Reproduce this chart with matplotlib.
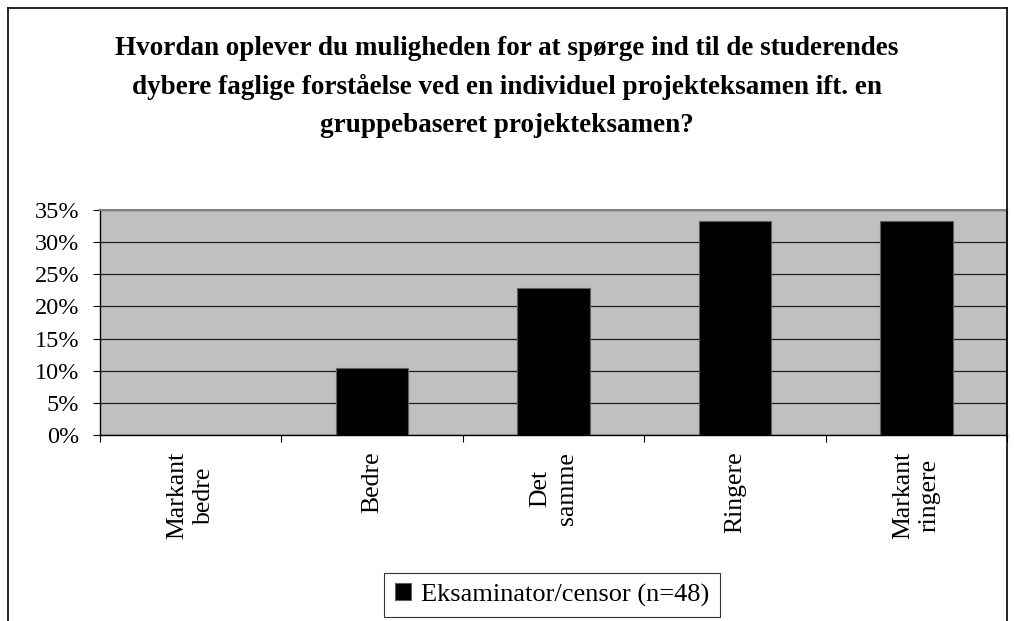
import matplotlib
matplotlib.use('Agg')
from matplotlib import pyplot as plt
from matplotlib.lines import Line2D

# survey answers, share of respondents
categories = ['Markant\nbedre', 'Bedre', 'Det\nsamme', 'Ringere', 'Markant\nringere']
values = [0.0, 10.4, 22.9, 33.3, 33.3]
series_name = 'Eksaminator/censor (n=48)'
yticks = [0, 5, 10, 15, 20, 25, 30, 35]
title = ('Hvordan oplever du muligheden for at spørge ind til de studerendes\n'
         'dybere faglige forståelse ved en individuel projekteksamen ift. en\n'
         'gruppebaseret projekteksamen?')

plt.rcParams['font.family'] = ['Liberation Serif', 'DejaVu Serif']

fig = plt.figure(figsize=(10.14, 6.21), dpi=100)
ax = fig.add_axes([100 / 1014, 1 - 435 / 621, 907 / 1014, 225 / 621])

x = range(len(categories))
ax.bar(x, values, width=0.4, color='black', edgecolor='#606060', linewidth=0.8,
       label=series_name, zorder=3)

ax.set_facecolor('#c0c0c0')
ax.set_xlim(-0.5, len(categories) - 0.5)
ax.set_ylim(0, 35)
ax.set_yticks(yticks)
ax.set_yticklabels(['%d%%' % t for t in yticks], fontsize=17.5)
ax.yaxis.grid(True, color='#202020', linewidth=0.9, zorder=1)
ax.tick_params(axis='y', direction='out', length=5, width=0.8, pad=10)

ax.set_xticks(list(x))
ax.set_xticklabels(categories, rotation=90, fontsize=18.5, va='top',
                   ha='center', multialignment='center', linespacing=1.25)
ax.set_xticks([i - 0.5 for i in range(len(categories) + 1)], minor=True)
ax.tick_params(axis='x', which='major', length=0, pad=12)
ax.tick_params(axis='x', which='minor', direction='out', length=5, width=0.8)

for side in ['top', 'right']:
    ax.spines[side].set_color('#808080')
    ax.spines[side].set_linewidth(1.5)
for side in ['left', 'bottom']:
    ax.spines[side].set_color('black')
    ax.spines[side].set_linewidth(1.0)

fig.text(0.5, 1 - 87 / 621, title, ha='center', va='center', fontsize=19.5,
         fontweight='bold', linespacing=1.68)

leg = fig.legend(loc='center', bbox_to_anchor=(552 / 1014, 1 - 595 / 621),
                 fontsize=19, frameon=True, fancybox=False, handlelength=0.6,
                 handleheight=0.6, handletextpad=0.4, borderpad=0.4)
leg.get_frame().set_edgecolor('black')
leg.get_frame().set_linewidth(0.8)

# outer chart frame (bottom edge is cut off)
fx0, fx1, fy1 = 8 / 1014, 1007 / 1014, 1 - 8 / 621
fig.add_artist(Line2D([fx0, fx0], [0, fy1], color='black', linewidth=1.2))
fig.add_artist(Line2D([fx0, fx1], [fy1, fy1], color='black', linewidth=1.2))
fig.add_artist(Line2D([fx1, fx1], [0, fy1], color='black', linewidth=1.2))

fig.savefig('out.png', dpi=100, facecolor='white')
